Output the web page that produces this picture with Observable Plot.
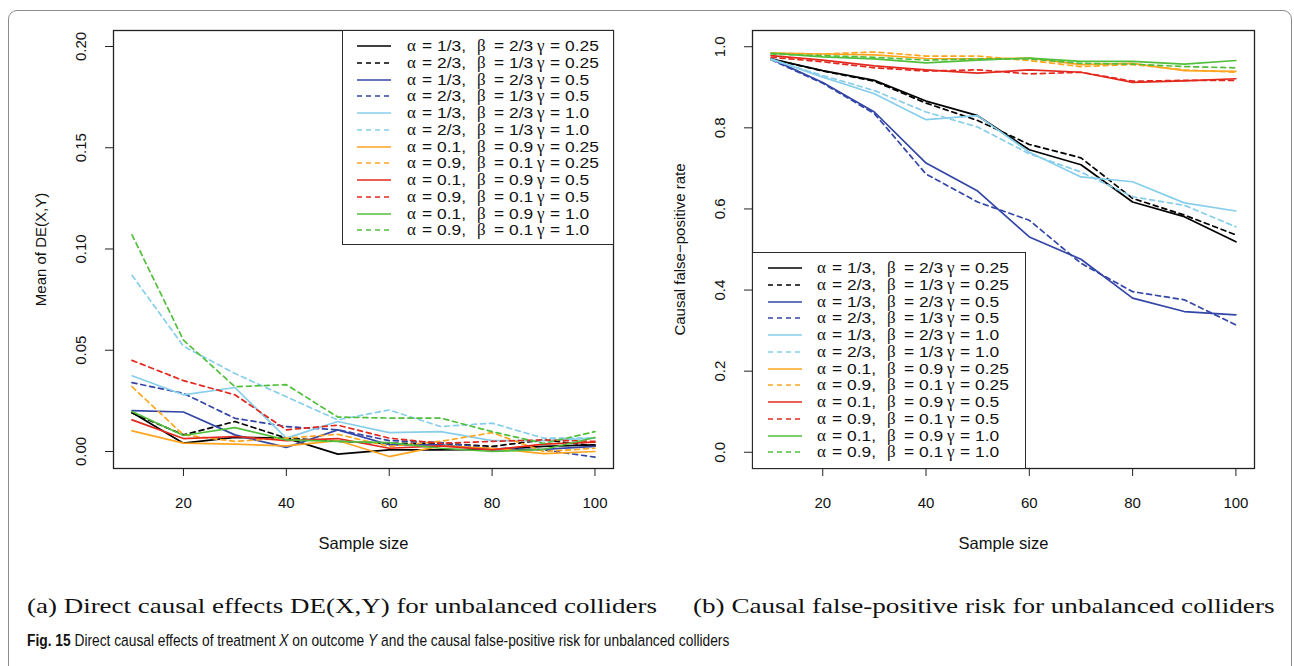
<!DOCTYPE html>
<html><head><meta charset="utf-8">
<script src="https://cdn.jsdelivr.net/npm/d3@7"></script>
<script src="https://cdn.jsdelivr.net/npm/@observablehq/plot@0.6"></script>
<style>
html,body{margin:0;padding:0;background:#fff;}
body{width:1294px;height:666px;overflow:hidden;position:relative;font-family:"Liberation Sans",Arial,sans-serif;}
#frame{position:absolute;left:8px;top:10px;width:1284px;height:720px;border:1px solid #8c8c8c;border-radius:9px;box-sizing:border-box;}
.panel{position:absolute;top:0;}
.legend{position:absolute;background:#fff;border:1.3px solid #2a2a2a;box-sizing:border-box;}
.row{position:absolute;left:0;height:16px;white-space:pre;color:#111;}
.row svg{position:absolute;top:0;}
.p{position:absolute;top:0;font-size:15.5px;line-height:16px;transform:scaleX(1.12);transform-origin:0 50%;}
.g{position:absolute;top:0;font-family:"Liberation Serif","DejaVu Serif",serif;font-size:17px;line-height:16px;}
#captions{position:absolute;left:0;top:580px;}
</style>
</head><body>
<div id="frame"></div>
<div id="left" class="panel" style="left:0px"></div>
<div id="right" class="panel" style="left:640px"></div>
<svg id="captions" width="1294" height="86"></svg>
<script>
// ---------- data ----------
const sampleSizes = [10, 20, 30, 40, 50, 60, 70, 80, 90, 100];
const alphaLabels = ["1/3", "2/3", "1/3", "2/3", "1/3", "2/3", "0.1", "0.9", "0.1", "0.9", "0.1", "0.9"];
const betaLabels  = ["2/3", "1/3", "2/3", "1/3", "2/3", "1/3", "0.9", "0.1", "0.9", "0.1", "0.9", "0.1"];
const gammaLabels = ["0.25", "0.25", "0.5", "0.5", "1.0", "1.0", "0.25", "0.25", "0.5", "0.5", "1.0", "1.0"];

// Mean of DE(X,Y) (panel a)
const deS1  = [0.0193, 0.0041, 0.0070, 0.0066, -0.0013, 0.0008, 0.0008, 0.0010, 0.0025, 0.0033];
const deS2  = [0.0190, 0.0082, 0.0148, 0.0066, 0.0050, 0.0040, 0.0040, 0.0025, 0.0057, 0.0028];
const deS3  = [0.0202, 0.0195, 0.0082, 0.0020, 0.0107, 0.0033, 0.0033, 0.0008, 0.0010, 0.0025];
const deS4  = [0.0340, 0.0287, 0.0164, 0.0123, 0.0107, 0.0054, 0.0044, 0.0016, 0.0008, -0.0028];
const deS5  = [0.0374, 0.0280, 0.0316, 0.0066, 0.0148, 0.0093, 0.0098, 0.0054, 0.0054, 0.0066];
const deS6  = [0.0870, 0.0520, 0.0385, 0.0270, 0.0156, 0.0205, 0.0123, 0.0140, 0.0066, 0.0066];
const deS7  = [0.0102, 0.0041, 0.0036, 0.0028, 0.0054, -0.0025, 0.0028, 0.0016, -0.0011, 0.0000];
const deS8  = [0.0320, 0.0082, 0.0050, 0.0066, 0.0085, 0.0025, 0.0050, 0.0093, 0.0000, 0.0016];
const deS9  = [0.0156, 0.0064, 0.0074, 0.0054, 0.0064, 0.0016, 0.0028, 0.0008, 0.0036, 0.0046];
const deS10 = [0.0450, 0.0350, 0.0280, 0.0107, 0.0130, 0.0066, 0.0040, 0.0050, 0.0057, 0.0050];
const deS11 = [0.0197, 0.0079, 0.0118, 0.0057, 0.0050, 0.0044, 0.0016, 0.0000, 0.0010, 0.0069];
const deS12 = [0.1070, 0.0550, 0.0320, 0.0330, 0.0170, 0.0165, 0.0165, 0.0098, 0.0040, 0.0098];

// Causal false-positive rate (panel b)
const fpS1  = [0.970, 0.941, 0.917, 0.866, 0.830, 0.746, 0.709, 0.617, 0.581, 0.519];
const fpS2  = [0.970, 0.940, 0.915, 0.861, 0.818, 0.759, 0.726, 0.626, 0.585, 0.536];
const fpS3  = [0.970, 0.912, 0.839, 0.713, 0.644, 0.531, 0.476, 0.380, 0.347, 0.339];
const fpS4  = [0.968, 0.910, 0.835, 0.686, 0.617, 0.572, 0.466, 0.396, 0.376, 0.314];
const fpS5  = [0.970, 0.925, 0.884, 0.820, 0.830, 0.740, 0.679, 0.667, 0.615, 0.595];
const fpS6  = [0.968, 0.929, 0.892, 0.839, 0.802, 0.736, 0.691, 0.630, 0.609, 0.556];
const fpS7  = [0.984, 0.982, 0.980, 0.971, 0.970, 0.972, 0.956, 0.959, 0.941, 0.939];
const fpS8  = [0.984, 0.982, 0.987, 0.977, 0.977, 0.966, 0.951, 0.956, 0.943, 0.937];
const fpS9  = [0.978, 0.967, 0.953, 0.943, 0.935, 0.943, 0.937, 0.912, 0.916, 0.921];
const fpS10 = [0.974, 0.963, 0.948, 0.940, 0.943, 0.933, 0.937, 0.915, 0.917, 0.917];
const fpS11 = [0.984, 0.975, 0.970, 0.960, 0.967, 0.972, 0.964, 0.964, 0.957, 0.966];
const fpS12 = [0.982, 0.978, 0.974, 0.967, 0.970, 0.970, 0.959, 0.957, 0.951, 0.948];

const xTicks = [20, 40, 60, 80, 100];
const deTicks = [0.00, 0.05, 0.10, 0.15, 0.20];
const fpTicks = [0.0, 0.2, 0.4, 0.6, 0.8, 1.0];

const deSeries = [deS1, deS2, deS3, deS4, deS5, deS6, deS7, deS8, deS9, deS10, deS11, deS12];
const fpSeries = [fpS1, fpS2, fpS3, fpS4, fpS5, fpS6, fpS7, fpS8, fpS9, fpS10, fpS11, fpS12];

// ---------- styles ----------
const seriesColors = ["#000000", "#000000", "#3346a6", "#3346a6", "#87ceeb", "#87ceeb",
                      "#ffa520", "#ffa520", "#e3281e", "#e3281e", "#52bf3c", "#52bf3c"];
const seriesDashed = [false, true, false, true, false, true, false, true, false, true, false, true];
const DASH = "5 4";
const FONT = "Liberation Sans, Arial, sans-serif";

function toRows(series) {
  const rows = [];
  series.forEach((arr, s) => arr.forEach((v, i) => rows.push({s, n: sampleSizes[i], v})));
  return rows;
}

function panel({series, yDomain, yTicks, yFormat, yLabel, marginLeft, marginRight, width}) {
  const rows = toRows(series);
  const marks = [];
  series.forEach((_, s) => {
    marks.push(Plot.line(rows.filter(d => d.s === s), {
      x: "n", y: "v", stroke: seriesColors[s], strokeWidth: 1.7,
      strokeDasharray: seriesDashed[s] ? DASH : null
    }));
  });
  marks.push(Plot.frame({stroke: "#222", strokeWidth: 1.3}));
  marks.push(Plot.axisX({ticks: xTicks, tickSize: 8, tickPadding: 21, fontSize: 15, label: null, stroke: "#222"}));
  marks.push(Plot.axisY({ticks: yTicks, tickSize: 8, tickFormat: () => "", label: null, stroke: "#222"}));
  marks.push(Plot.text(yTicks, {y: d => d, text: d => yFormat(d), frameAnchor: "left", dx: -32,
                                rotate: -90, textAnchor: "middle", lineAnchor: "middle", fontSize: 15, fill: "#111"}));
  marks.push(Plot.text([yLabel], {frameAnchor: "left", dx: -72, rotate: -90, textAnchor: "middle",
                                  lineAnchor: "middle", fontSize: 15, fill: "#111"}));
  marks.push(Plot.text(["Sample size"], {frameAnchor: "bottom", dy: 75, textAnchor: "middle",
                                         lineAnchor: "middle", fontSize: 16.5, fill: "#111"}));
  return Plot.plot({
    width, height: 570,
    marginLeft, marginRight, marginTop: 30, marginBottom: 102,
    x: {domain: [6.4, 103.6]},
    y: {domain: yDomain},
    style: {fontFamily: FONT, fontSize: "15px", color: "#111", background: "transparent", overflow: "visible"},
    marks
  });
}

document.getElementById("left").appendChild(panel({
  series: deSeries, yDomain: [-0.0084, 0.2079], yTicks: deTicks, yFormat: d3.format(".2f"),
  yLabel: "Mean of DE(X,Y)", marginLeft: 113, marginRight: 27, width: 640
}));
document.getElementById("right").appendChild(panel({
  series: fpSeries, yDomain: [-0.04, 1.04], yTicks: fpTicks, yFormat: d3.format(".1f"),
  yLabel: "Causal false\u2212positive rate", marginLeft: 112, marginRight: 40, width: 654
}));

// ---------- legends ----------
const cols = [0, 15, 30, 70, 86.5, 101.5, 130, 143, 158];
function legend(left, top, w, h, firstRow, sampleX, textX) {
  const box = document.createElement("div");
  box.className = "legend";
  Object.assign(box.style, {left: left + "px", top: top + "px", width: w + "px", height: h + "px"});
  alphaLabels.forEach((a, i) => {
    const row = document.createElement("div");
    row.className = "row";
    row.style.top = (firstRow + i * 16.75 - 8) + "px";
    row.style.width = w + "px";
    const dash = seriesDashed[i] ? `stroke-dasharray="${DASH}"` : "";
    const pieces = [["g", "\u03b1"], ["p", "="], ["p", a + ","], ["g", "\u03b2"], ["p", "="], ["p", betaLabels[i]],
                    ["g", "\u03b3"], ["p", "="], ["p", gammaLabels[i]]];
    row.innerHTML =
      `<svg width="40" height="16" style="left:${sampleX}px"><line x1="0" x2="34" y1="8" y2="8" stroke="${seriesColors[i]}" stroke-width="1.7" ${dash}/></svg>` +
      pieces.map(([c, t], k) => `<span class="${c}" style="left:${textX + cols[k]}px">${t}</span>`).join("");
    box.appendChild(row);
  });
  document.body.appendChild(box);
}
legend(342, 30, 272, 215, 15, 14, 64);
legend(752, 252, 274, 217, 15, 15, 64);

// ---------- captions ----------
const cap = d3.select("#captions");
function caption(x, y, width, family, size, build) {
  const outer = cap.append("g");
  const t = outer.append("text").attr("font-family", family).attr("font-size", size).attr("fill", "#111");
  build(t);
  const s = width / t.node().getBBox().width;
  outer.attr("transform", `translate(${x},${y}) scale(${s},1)`);
}
const serif = "Liberation Serif, DejaVu Serif, serif";
const sans = "Liberation Sans Narrow, Liberation Sans, sans-serif";
caption(27, 33, 630, serif, 22, t => t.text("(a) Direct causal effects DE(X,Y) for unbalanced colliders"));
caption(693, 33, 582, serif, 22, t => t.text("(b) Causal false-positive risk for unbalanced colliders"));
caption(27, 66, 703, sans, 16.5, t => {
  t.append("tspan").attr("font-weight", "bold").text("Fig. 15");
  t.append("tspan").text(" Direct causal effects of treatment ");
  t.append("tspan").attr("font-style", "italic").text("X");
  t.append("tspan").text(" on outcome ");
  t.append("tspan").attr("font-style", "italic").text("Y");
  t.append("tspan").text(" and the causal false-positive risk for unbalanced colliders");
});
</script>
</body></html>
